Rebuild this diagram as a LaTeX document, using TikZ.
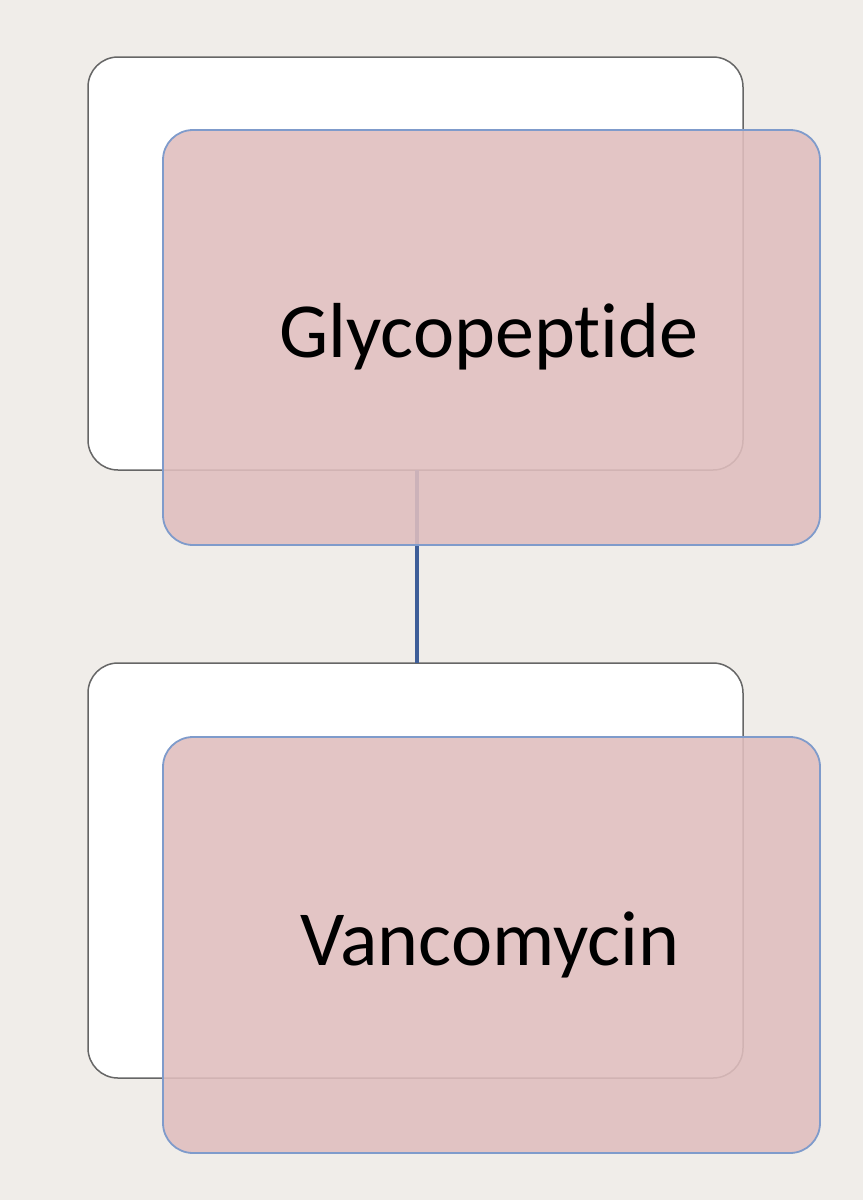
\documentclass[tikz,border=0pt]{standalone}
\usepackage{fontspec}
\setmainfont[Ligatures=NoCommon]{Carlito}
\definecolor{bg}{HTML}{F0EDE9}
\definecolor{pinkf}{HTML}{E0BEBE}
\definecolor{pinkd}{HTML}{7F9BCB}
\definecolor{linec}{HTML}{3E5E98}
\begin{document}
\begin{tikzpicture}[x=1pt,y=-1pt,
  backbox/.style={draw=black!60,fill=white,rounded corners=30pt,line width=1.5pt},
  frontbox/.style={draw=pinkd,fill=pinkf,fill opacity=0.88,rounded corners=30pt,line width=1.8pt},
  lbl/.style={font=\fontsize{78}{90}\selectfont,text=black}]
\fill[bg] (0,0) rectangle (863,1200);
\useasboundingbox (0,0) rectangle (863,1200);
\draw[backbox] (88,57) rectangle (743,470);
\draw[backbox] (88,663) rectangle (743,1078);
\coordinate (c1) at (417,470);
\coordinate (c2) at (417,663);
\draw[linec,line width=3.5pt] (c1) -- (c2);
\draw[frontbox] (163,130) rectangle (820,545);
\draw[frontbox] (163,737) rectangle (820,1153);
\node[lbl] (g) at (489,337) {Glycopeptide};
\node[lbl] (v) at (490,945) {Vancomycin};
\end{tikzpicture}
\end{document}
